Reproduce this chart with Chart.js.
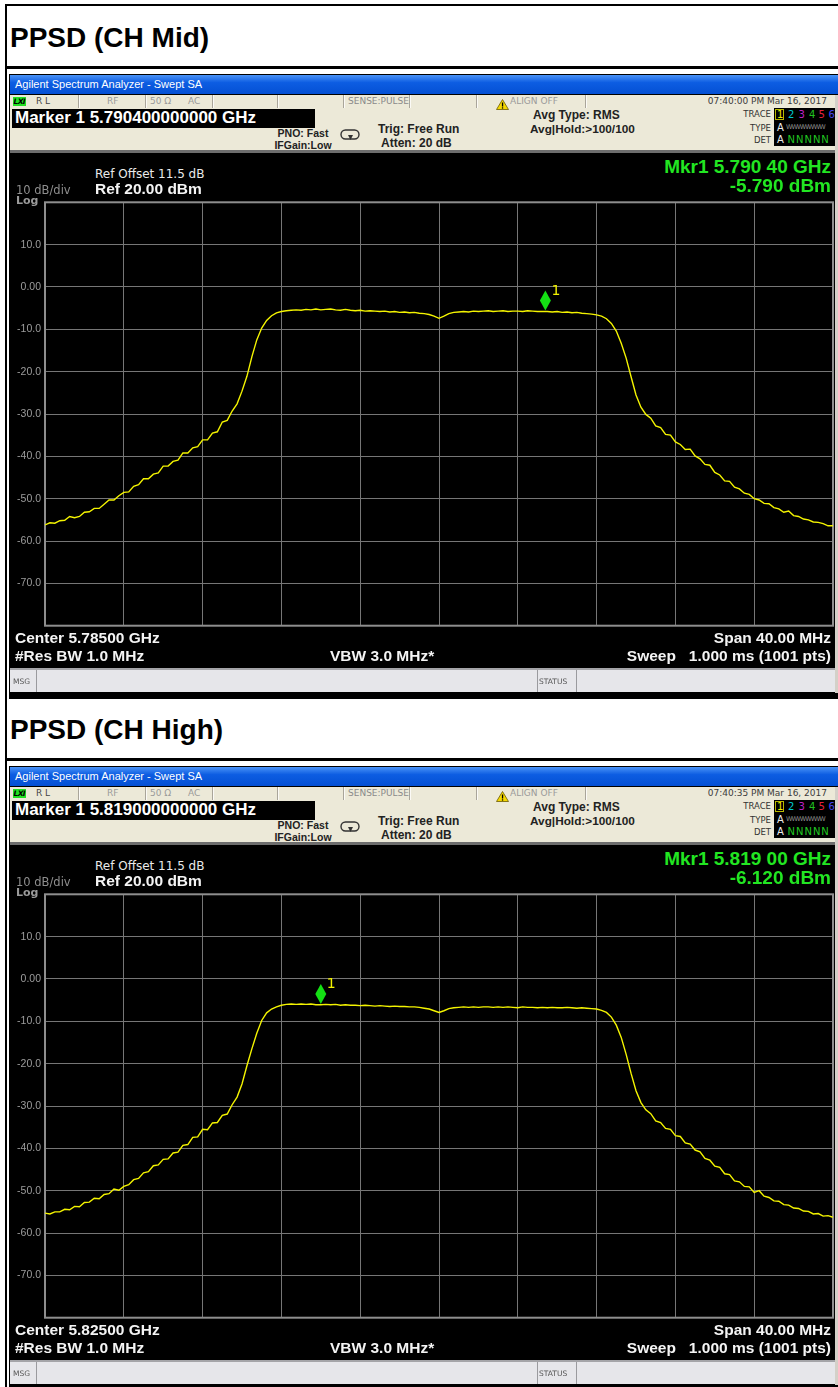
<!DOCTYPE html>
<html lang="en">
<head>
<meta charset="utf-8">
<title>PPSD</title>
<script src="https://cdn.jsdelivr.net/npm/chart.js@4.4.1/dist/chart.umd.min.js"></script>
<style>
  html, body { margin: 0; padding: 0; background: #fff; }
  body { position: relative; width: 838px; height: 1387px; overflow: hidden; }
  .box { position: absolute; }
  .t { position: absolute; white-space: pre; line-height: 1; z-index: 3; }
  canvas { position: absolute; z-index: 2; }
</style>
</head>
<body>
<script>
// ---- Sweep settings ----
const SPAN_MHZ = 40;
const MID_CENTER_MHZ = 5785;
const HIGH_CENTER_MHZ = 5825;
const REF_LEVEL_DBM = 20;
const BOTTOM_LEVEL_DBM = -80;
const DB_PER_DIV = 10;
const FREQ_DIV_MHZ = 4;

// ---- Measured PSD trace (dBm / 1 MHz), 0.25 MHz spacing over the 40 MHz span ----
const MID_PSD = [
  -56.2, -55.7, -55.8, -55.2, -55.1, -54.2, -54.5, -54.2, -53.2, -53.1,
  -52.3, -52.3, -51.3, -50.3, -50.3, -49.3, -48.5, -48.4, -47.1, -46.7,
  -45.3, -45.3, -44.2, -43.9, -42.3, -42.3, -41.2, -40.9, -39.2, -39.2,
  -38.0, -37.7, -36.1, -36.1, -34.5, -34.2, -31.9, -31.5, -29.3, -27.6,
  -24.6, -21.1, -16.5, -12.5, -9.7, -7.9, -6.8, -6.1, -5.8, -5.6,
  -5.5, -5.4, -5.5, -5.3, -5.4, -5.2, -5.4, -5.3, -5.2, -5.4,
  -5.5, -5.3, -5.5, -5.6, -5.5, -5.7, -5.6, -5.7, -5.8, -5.7,
  -5.9, -5.8, -6.0, -5.9, -6.1, -6.0, -6.2, -6.3, -6.5, -6.9,
  -7.4, -6.9, -6.3, -6.0, -5.9, -5.8, -5.9, -5.7, -5.8, -5.7,
  -5.6, -5.8, -5.7, -5.6, -5.8, -5.7, -5.7, -5.8, -5.6, -5.7,
  -5.8, -5.8, -5.8, -5.9, -5.8, -6.0, -5.9, -6.1, -6.0, -6.2,
  -6.3, -6.4, -6.6, -6.9, -7.5, -8.6, -10.4, -13.3, -16.8, -21.2,
  -25.5, -28.4, -30.1, -31.0, -32.8, -33.2, -34.8, -35.0, -36.6, -37.2,
  -38.4, -38.3, -39.9, -40.6, -41.9, -42.1, -43.8, -44.4, -45.8, -45.9,
  -47.3, -47.7, -48.7, -49.0, -50.0, -50.3, -51.1, -51.2, -52.1, -52.4,
  -53.2, -52.9, -54.0, -54.2, -54.8, -55.0, -55.5, -55.6, -55.9, -56.4,
  -56.4
];

const HIGH_PSD = [
  -55.3, -55.5, -55.0, -55.0, -54.4, -54.5, -53.7, -53.8, -52.8, -52.7,
  -51.8, -51.9, -50.9, -50.7, -49.6, -49.9, -49.0, -48.6, -47.4, -47.1,
  -45.8, -45.5, -44.1, -43.9, -42.6, -42.5, -41.1, -40.9, -39.3, -39.1,
  -37.4, -37.3, -35.5, -35.6, -34.0, -33.9, -32.2, -31.9, -29.7, -27.9,
  -24.8, -20.5, -16.5, -12.8, -9.8, -8.0, -7.1, -6.6, -6.2, -6.0,
  -5.9, -6.0, -5.9, -6.0, -5.9, -6.1, -6.1, -6.0, -6.1, -6.0,
  -6.2, -6.1, -6.2, -6.2, -6.3, -6.2, -6.3, -6.4, -6.3, -6.4,
  -6.5, -6.4, -6.5, -6.5, -6.6, -6.6, -6.7, -6.9, -7.1, -7.5,
  -7.9, -7.5, -7.0, -6.8, -6.7, -6.6, -6.7, -6.6, -6.7, -6.6,
  -6.6, -6.7, -6.6, -6.7, -6.6, -6.7, -6.8, -6.6, -6.7, -6.7,
  -6.8, -6.7, -6.8, -6.7, -6.8, -6.8, -6.7, -6.8, -6.9, -6.8,
  -6.9, -7.0, -7.1, -7.4, -7.9, -9.0, -10.9, -13.8, -17.8, -22.3,
  -26.4, -29.2, -30.9, -31.8, -33.5, -33.9, -35.3, -35.5, -37.0, -37.2,
  -38.7, -39.0, -40.4, -40.8, -42.4, -42.8, -44.2, -44.5, -46.0, -46.2,
  -47.7, -47.9, -49.0, -49.1, -50.4, -50.0, -51.3, -51.6, -52.4, -52.5,
  -53.3, -53.4, -54.1, -54.2, -54.8, -54.9, -55.5, -55.4, -56.0, -55.9,
  -56.3
];

// ---- Marker 1 readouts ----
const MID_MARKER_MHZ = 5790.4;
const MID_MARKER_DBM = -5.79;
const HIGH_MARKER_MHZ = 5819.0;
const HIGH_MARKER_DBM = -6.12;

// ---- Amplitude graticule labels ----
const Y_TICKS = [10, 0, -10, -20, -30, -40, -50, -60, -70];
const Y_TICK_TEXT = ['10.0', '0.00', '-10.0', '-20.0', '-30.0', '-40.0', '-50.0', '-60.0', '-70.0'];

// sweep grid of the analyzer: evenly spaced bins from start to stop
function sweepPoints(center, span, n) {
  const start = center - span / 2;
  return Array.from({ length: n }, (_, i) => start + i * span / (n - 1));
}

const PAGE_W = 838;
const SANS = '"Liberation Sans", Arial, sans-serif';
const DV = '"DejaVu Sans", Verdana, sans-serif';

function box(x, y, w, h, css) {
  const d = document.createElement('div');
  d.className = 'box';
  Object.assign(d.style, { left: x + 'px', top: y + 'px', width: w + 'px', height: h + 'px' }, css || {});
  document.body.appendChild(d);
  return d;
}

function txt(x, base, s, o) {
  o = o || {};
  const size = o.size || 12;
  const d = document.createElement('div');
  d.className = 't';
  d.textContent = s;
  d.style.fontSize = size + 'px';
  d.style.fontFamily = o.family || SANS;
  d.style.fontWeight = o.bold ? 'bold' : 'normal';
  if (o.italic) d.style.fontStyle = 'italic';
  d.style.color = o.color || '#000';
  if (o.ls !== undefined) d.style.letterSpacing = o.ls + 'px';
  d.style.top = (base - 0.846 * size) + 'px';
  if (o.align === 'right') d.style.right = (PAGE_W - x) + 'px';
  else if (o.align === 'center') { d.style.left = x + 'px'; d.style.transform = 'translateX(-50%)'; }
  else d.style.left = x + 'px';
  document.body.appendChild(d);
  return d;
}

function svg(x, y, w, h, inner) {
  const d = box(x, y, w, h, { zIndex: 3 });
  d.innerHTML = '<svg width="' + w + '" height="' + h + '" viewBox="0 0 ' + w + ' ' + h + '">' + inner + '</svg>';
  return d;
}

// ---- graticule frame drawn around the plot area ----
const framePlugin = {
  id: 'frame',
  beforeDatasetsDraw(chart) {
    const { ctx, chartArea: a } = chart;
    ctx.save();
    ctx.strokeStyle = '#8e8e8e';
    ctx.lineWidth = 2;
    ctx.strokeRect(a.left, a.top, a.right - a.left, a.bottom - a.top);
    ctx.restore();
  }
};

// ---- marker diamond with its number ----
const markerPlugin = {
  id: 'mkr',
  afterDatasetsDraw(chart, args, opts) {
    const { ctx, scales: { x, y } } = chart;
    const px = x.getPixelForValue(opts.freq);
    const py = y.getPixelForValue(opts.level);
    ctx.save();
    ctx.beginPath();
    ctx.moveTo(px, py - 1);
    ctx.lineTo(px + 5.5, py - 11);
    ctx.lineTo(px, py - 21);
    ctx.lineTo(px - 5.5, py - 11);
    ctx.closePath();
    ctx.fillStyle = '#14e014';
    ctx.fill();
    ctx.fillStyle = '#f2f200';
    ctx.font = '14px ' + DV;
    ctx.fillText(opts.label, px + 6, py - 16.5);
    ctx.restore();
  }
};

function drawTrace(oy, center, psd, mkFreq, mkLevel) {
  const c = document.createElement('canvas');
  c.width = 829; c.height = 444;
  c.style.left = '9px';
  c.style.top = (192 + oy) + 'px';
  document.body.appendChild(c);
  const freqs = sweepPoints(center, SPAN_MHZ, psd.length);
  new Chart(c.getContext('2d'), {
    type: 'line',
    data: {
      datasets: [{
        data: psd.map((v, i) => ({ x: freqs[i], y: v })),
        borderColor: '#f4f400',
        borderWidth: 1.4,
        pointRadius: 0,
        tension: 0,
        fill: false
      }]
    },
    options: {
      responsive: false,
      animation: false,
      events: [],
      layout: { padding: { top: 10, right: 5, bottom: 8.5, left: 0 } },
      plugins: {
        legend: { display: false },
        tooltip: { enabled: false },
        mkr: { freq: mkFreq, level: mkLevel, label: '1' }
      },
      scales: {
        x: {
          type: 'linear',
          min: center - SPAN_MHZ / 2,
          max: center + SPAN_MHZ / 2,
          ticks: { display: false, stepSize: FREQ_DIV_MHZ },
          grid: { color: '#767676', lineWidth: 1, drawTicks: false },
          border: { display: false },
          afterFit(a) { a.height = 0; }
        },
        y: {
          min: BOTTOM_LEVEL_DBM,
          max: REF_LEVEL_DBM,
          ticks: {
            stepSize: DB_PER_DIV,
            autoSkip: false,
            padding: 4,
            color: '#9c9c9c',
            font: { family: 'Liberation Sans', size: 10.5 },
            callback(v) {
              const k = Y_TICKS.indexOf(v);
              return k >= 0 ? Y_TICK_TEXT[k] : '';
            }
          },
          grid: { color: '#767676', lineWidth: 1, drawTicks: false },
          border: { display: false },
          afterFit(a) { a.width = 36; }
        }
      }
    },
    plugins: [framePlugin, markerPlugin]
  });
}

function buildPanel(oy, p) {
  // heading cell
  txt(10, 48 + oy, p.title, { size: 28, bold: true });
  box(5, 66 + oy, 833, 3, { background: '#000' });

  // analyzer window
  box(9, 74 + oy, 829, 625, { background: '#000' });
  box(10, 75 + oy, 828, 19, { background: 'linear-gradient(#4a93f7, #0d5de2 40%, #0450d4)' });
  txt(15, 88 + oy, 'Agilent Spectrum Analyzer - Swept SA', { size: 11, color: '#fff' });
  box(835, 95 + oy, 3, 598, { background: '#d4d0c8' });

  // status strip
  box(10, 95 + oy, 825, 13, { background: '#ece9d8' });
  [78, 145, 212, 277, 343, 409, 476, 585].forEach(x => {
    box(x, 95 + oy, 1, 13, { background: '#a9a59a' });
    box(x + 1, 95 + oy, 1, 13, { background: '#fbfaf6' });
  });
  box(13, 97 + oy, 13, 9, { background: '#22e022' });
  txt(13.5, 104.5 + oy, 'LXI', { size: 7.5, bold: true, italic: true, color: '#000', family: DV, ls: -0.6 });
  txt(36, 105 + oy, 'R L', { size: 9, family: DV, color: '#444' });
  txt(107, 105 + oy, 'RF', { size: 9, family: DV, color: '#9a9a9a' });
  txt(150, 105 + oy, '50 Ω', { size: 9, family: DV, color: '#9a9a9a' });
  txt(188, 105 + oy, 'AC', { size: 9, family: DV, color: '#9a9a9a' });
  txt(348, 105 + oy, 'SENSE:PULSE', { size: 9, family: DV, color: '#8a8a8a' });
  svg(496, 96 + oy, 13, 11,
    '<polygon points="6.5,0.5 12.5,10.5 0.5,10.5" fill="#f5d800" stroke="#6b5a00" stroke-width="0.8"/>' +
    '<rect x="5.9" y="3.5" width="1.3" height="4" fill="#000"/><rect x="5.9" y="8.3" width="1.3" height="1.3" fill="#000"/>');
  txt(510, 105 + oy, 'ALIGN OFF', { size: 9, family: DV, color: '#9a9a9a' });
  txt(827, 105 + oy, p.date, { size: 9, family: DV, color: '#3c3c3c', align: 'right' });

  // settings area
  box(10, 108 + oy, 825, 42, { background: '#ece9d8' });
  box(10, 150 + oy, 825, 3, { background: '#6d6d6d' });
  box(12, 109 + oy, 303, 19, { background: '#000' });
  txt(15, 123.5 + oy, p.markerLine, { size: 17, bold: true, color: '#fff' });
  txt(303, 137 + oy, 'PNO: Fast', { size: 10.5, bold: true, color: '#222', align: 'center' });
  txt(303, 149 + oy, 'IFGain:Low', { size: 10.5, bold: true, color: '#222', align: 'center' });
  svg(340, 128 + oy, 21, 13,
    '<rect x="1" y="1" width="18" height="9" rx="4.5" fill="none" stroke="#333" stroke-width="1.4"/>' +
    '<polygon points="8,6 13,6 10.5,11" fill="#333"/>');
  txt(378, 133 + oy, 'Trig: Free Run', { size: 12, bold: true, color: '#222' });
  txt(381, 147.5 + oy, 'Atten: 20 dB', { size: 12, bold: true, color: '#222' });
  txt(533, 119 + oy, 'Avg Type: RMS', { size: 12, bold: true, color: '#222' });
  txt(530, 134 + oy, 'Avg|Hold:>100/100', { size: 11.8, bold: true, color: '#222' });

  // trace status box
  txt(771, 117.5 + oy, 'TRACE', { size: 8.5, family: DV, color: '#333', align: 'right' });
  txt(771, 131 + oy, 'TYPE', { size: 8.5, family: DV, color: '#333', align: 'right' });
  txt(771, 143.5 + oy, 'DET', { size: 8.5, family: DV, color: '#333', align: 'right' });
  box(774, 108 + oy, 61, 38, { background: '#000' });
  box(775, 109 + oy, 9, 11, { border: '1px solid #b8b800', boxSizing: 'border-box' });
  const digits = ['1', '2', '3', '4', '5', '6'];
  const dcol = ['#f0f000', '#00c8d0', '#c020c8', '#20c020', '#e8203c', '#4848f0'];
  const dx = [777, 788, 798.5, 809, 818.5, 828.5];
  digits.forEach((d, i) => txt(dx[i], 118 + oy, d, { size: 10, family: DV, color: dcol[i] }));
  txt(777, 131 + oy, 'A', { size: 10, family: DV, color: '#eee' });
  txt(786, 129 + oy, 'WWWWWWW', { size: 6.5, family: DV, color: '#8c8c8c', ls: -0.9 });
  txt(777, 143.5 + oy, 'A', { size: 10, family: DV, color: '#eee' });
  txt(787.5, 143.5 + oy, 'N N N N N', { size: 10, family: DV, color: '#22c822', ls: -1.1 });

  // display annotations
  txt(95, 178.5 + oy, 'Ref Offset 11.5 dB', { size: 12, family: DV, color: '#eaeaea' });
  txt(95, 194 + oy, 'Ref 20.00 dBm', { size: 15.5, bold: true, color: '#f4f4f4' });
  txt(16, 195 + oy, '10 dB/div', { size: 11.5, family: DV, color: '#8e8e8e' });
  txt(16, 204.5 + oy, 'Log', { size: 11, bold: true, family: DV, color: '#9a9a9a' });
  txt(831, 173.3 + oy, p.mkrLine1, { size: 19, bold: true, color: '#22e622', align: 'right' });
  txt(831, 192 + oy, p.mkrLine2, { size: 19, bold: true, color: '#22e622', align: 'right' });

  // footer annotations
  txt(15, 643 + oy, p.centerLine, { size: 15.5, bold: true, color: '#f4f4f4' });
  txt(15, 661 + oy, '#Res BW 1.0 MHz', { size: 15.5, bold: true, color: '#f4f4f4' });
  txt(330, 661 + oy, 'VBW 3.0 MHz*', { size: 15.5, bold: true, color: '#f4f4f4' });
  txt(831, 643 + oy, 'Span 40.00 MHz', { size: 15.5, bold: true, color: '#f4f4f4', align: 'right' });
  txt(831, 661 + oy, 'Sweep   1.000 ms (1001 pts)', { size: 15.5, bold: true, color: '#f4f4f4', align: 'right' });

  // message bar
  box(10, 668 + oy, 825, 24, { background: '#e6e6ea', borderTop: '2px solid #a4a4a8', boxSizing: 'border-box' });
  box(36, 670 + oy, 1, 22, { background: '#9a9a9e' });
  box(537, 670 + oy, 1, 22, { background: '#9a9a9e' });
  box(576, 670 + oy, 1, 22, { background: '#9a9a9e' });
  txt(13, 684 + oy, 'MSG', { size: 7.5, family: DV, color: '#555' });
  txt(539, 684 + oy, 'STATUS', { size: 7.5, family: DV, color: '#555' });
}

// page frame
box(5, 4, 833, 2, { background: '#000' });
box(5, 4, 2, 1383, { background: '#000' });

buildPanel(0, {
  title: 'PPSD (CH Mid)',
  date: '07:40:00 PM Mar 16, 2017',
  markerLine: 'Marker 1 5.790400000000 GHz',
  mkrLine1: 'Mkr1 5.790 40 GHz',
  mkrLine2: '-5.790 dBm',
  centerLine: 'Center 5.78500 GHz'
});
buildPanel(692, {
  title: 'PPSD (CH High)',
  date: '07:40:35 PM Mar 16, 2017',
  markerLine: 'Marker 1 5.819000000000 GHz',
  mkrLine1: 'Mkr1 5.819 00 GHz',
  mkrLine2: '-6.120 dBm',
  centerLine: 'Center 5.82500 GHz'
});

drawTrace(0, MID_CENTER_MHZ, MID_PSD, MID_MARKER_MHZ, MID_MARKER_DBM);
drawTrace(692, HIGH_CENTER_MHZ, HIGH_PSD, HIGH_MARKER_MHZ, HIGH_MARKER_DBM);
</script>
</body>
</html>
